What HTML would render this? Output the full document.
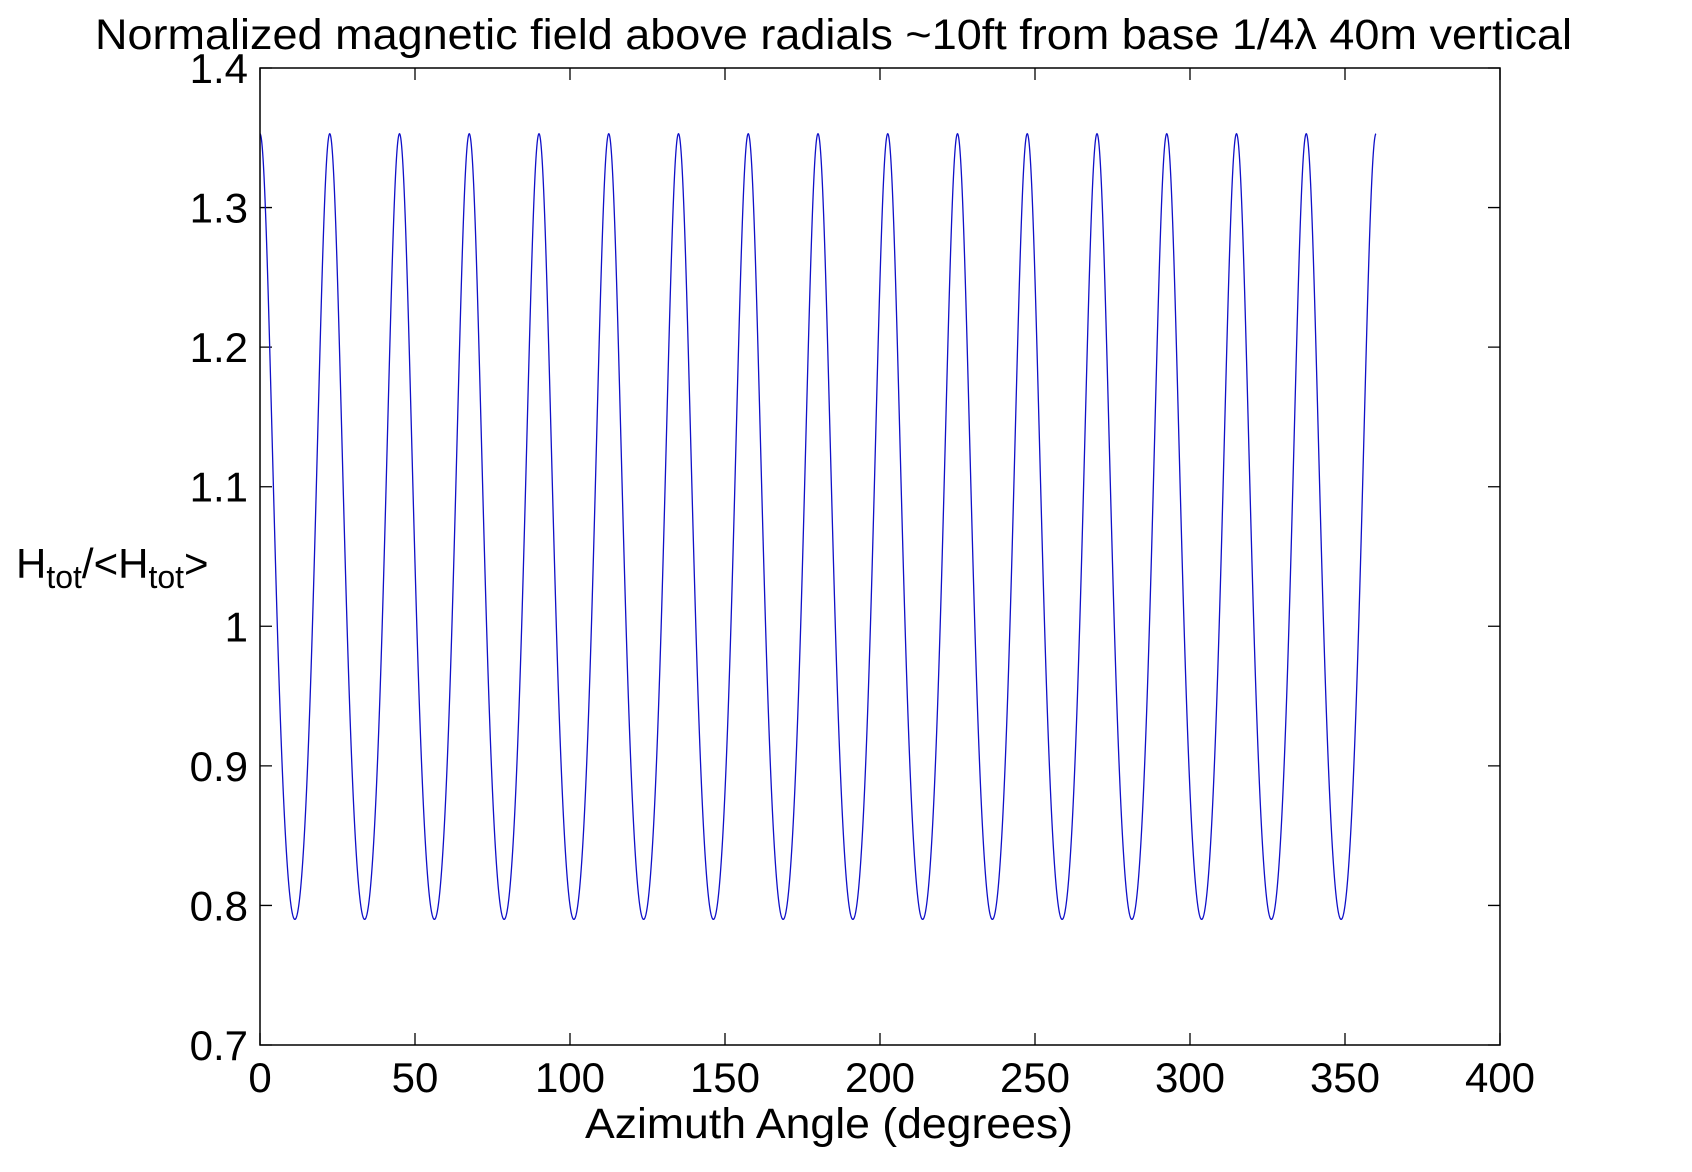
<!DOCTYPE html>
<html><head><meta charset="utf-8"><style>
html,body{margin:0;padding:0;background:#fff;}
svg{display:block;}
text{font-family:"Liberation Sans",sans-serif;fill:#000;}
</style></head><body>
<svg id="s" width="1692" height="1172" viewBox="0 0 1692 1172" xmlns="http://www.w3.org/2000/svg">
<rect x="0" y="0" width="1692" height="1172" fill="#fff"/>
<text x="95" y="49" font-size="43" textLength="1477" lengthAdjust="spacingAndGlyphs">Normalized magnetic field above radials ~10ft from base 1/4λ 40m vertical</text>
<g id="ticks" stroke="#000" stroke-width="1.3" fill="none"></g>
<path id="curve" fill="none" stroke="#1010c8" stroke-width="1.3"/>
<rect x="260" y="68" width="1240" height="977" fill="none" stroke="#000" stroke-width="1.5"/>
<g id="labels" font-size="42"></g>
<text x="829" y="1138" font-size="43" text-anchor="middle" textLength="488" lengthAdjust="spacingAndGlyphs">Azimuth Angle (degrees)</text>
<text x="16" y="578" font-size="42">H<tspan font-size="32" dy="10">tot</tspan><tspan dy="-10">/&lt;H</tspan><tspan font-size="32" dy="10">tot</tspan><tspan dy="-10">&gt;</tspan></text>
</svg>
<script>
var X0=260,X1=1500,Y0=1045,Y1=68;
function px(x){return X0+(X1-X0)*x/400;}
function py(y){return Y0-(Y0-Y1)*(y-0.7)/0.7;}
var d="";
for(var i=0;i<=3600;i++){var t=i/10;var v=0.9975/(1-0.2627*Math.cos(16*t*Math.PI/180));d+=(i?"L":"M")+px(t).toFixed(2)+" "+py(v).toFixed(2);}
document.getElementById("curve").setAttribute("d",d);
var tk="",lb="";
for(var x=0;x<=400;x+=50){var X=px(x);tk+="M"+X+" "+Y0+"v-12M"+X+" "+Y1+"v12";
lb+='<text x="'+X+'" y="1092" text-anchor="middle">'+x+'</text>';}
var yl=["0.7","0.8","0.9","1","1.1","1.2","1.3","1.4"];
for(var k=0;k<8;k++){var Y=py(0.7+k*0.1);tk+="M"+X0+" "+Y+"h12M"+X1+" "+Y+"h-12";
lb+='<text x="248" y="'+(Y+15)+'" text-anchor="end">'+yl[k]+'</text>';}
var g=document.getElementById("ticks");var p=document.createElementNS("http://www.w3.org/2000/svg","path");p.setAttribute("d",tk);g.appendChild(p);
document.getElementById("labels").innerHTML=lb;
</script>
</body></html>
